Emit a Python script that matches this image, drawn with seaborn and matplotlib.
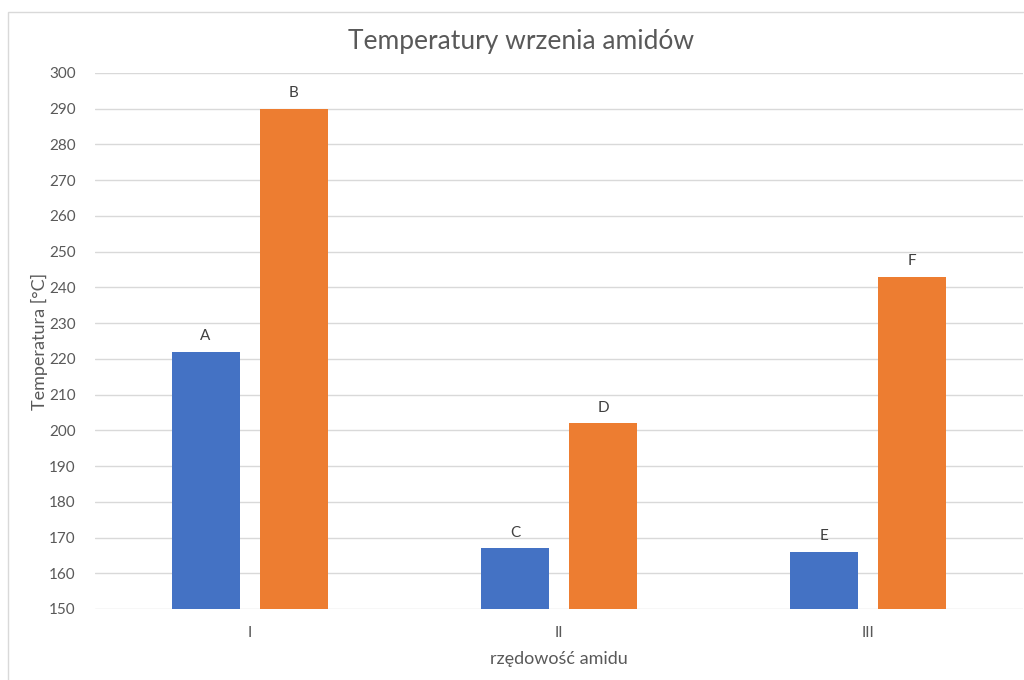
import matplotlib
matplotlib.use("Agg")
import matplotlib.pyplot as plt
import seaborn as sns
import pandas as pd
from matplotlib.patches import Rectangle

categories = ["I", "II", "III"]
series_names = ["s1", "s2"]
values_s1 = [222, 167, 166]
values_s2 = [290, 202, 243]
labels_s1 = ["A", "C", "E"]
labels_s2 = ["B", "D", "F"]

df = pd.DataFrame({
    "kat": categories * 2,
    "seria": [series_names[0]] * 3 + [series_names[1]] * 3,
    "val": values_s1 + values_s2,
    "lab": labels_s1 + labels_s2,
})

sns.set_theme(style="white")
plt.rcParams["font.family"] = ["Lato", "DejaVu Sans"]

fig = plt.figure(figsize=(10.24, 6.8), dpi=100)
ax = fig.add_axes([95 / 1024, 1 - 609 / 680, (1023 - 95) / 1024, (609 - 73) / 680])

sns.barplot(data=df, x="kat", y="val", hue="seria", order=categories,
            hue_order=series_names, palette=["#4472C4", "#ED7D31"],
            width=0.57, gap=0.228, ax=ax, legend=False, saturation=1,
            edgecolor="none")

ax.set_ylim(150, 300)
ax.set_xlim(-0.5, 2.5)
ax.set_yticks(range(150, 301, 10))
ax.yaxis.grid(True, color="#D9D9D9", linewidth=1)
ax.set_axisbelow(True)
for s in ax.spines.values():
    s.set_visible(False)
ax.tick_params(axis="both", length=0, labelsize=11, labelcolor="#595959")
ax.tick_params(axis="y", pad=14)
ax.tick_params(axis="x", pad=12)

for cont, labs in zip(ax.containers, [labels_s1, labels_s2]):
    ax.bar_label(cont, labels=labs, padding=6, fontsize=11, color="#404040")

ax.set_xlabel("rzędowość amidu", fontsize=13, color="#595959", labelpad=8)
ax.set_ylabel("Temperatura [°C]", fontsize=13, color="#595959", labelpad=1)
fig.text(521 / 1024, 1 - 42 / 680, "Temperatury wrzenia amidów", ha="center",
         va="center", fontsize=19, color="#595959")

fig.patches.append(Rectangle((8 / 1024, -0.1), 1.2, 1 - 12 / 680 + 0.1,
                             transform=fig.transFigure, fill=False,
                             edgecolor="#D9D9D9", linewidth=1, zorder=-1))

fig.savefig("out.png", dpi=100)
